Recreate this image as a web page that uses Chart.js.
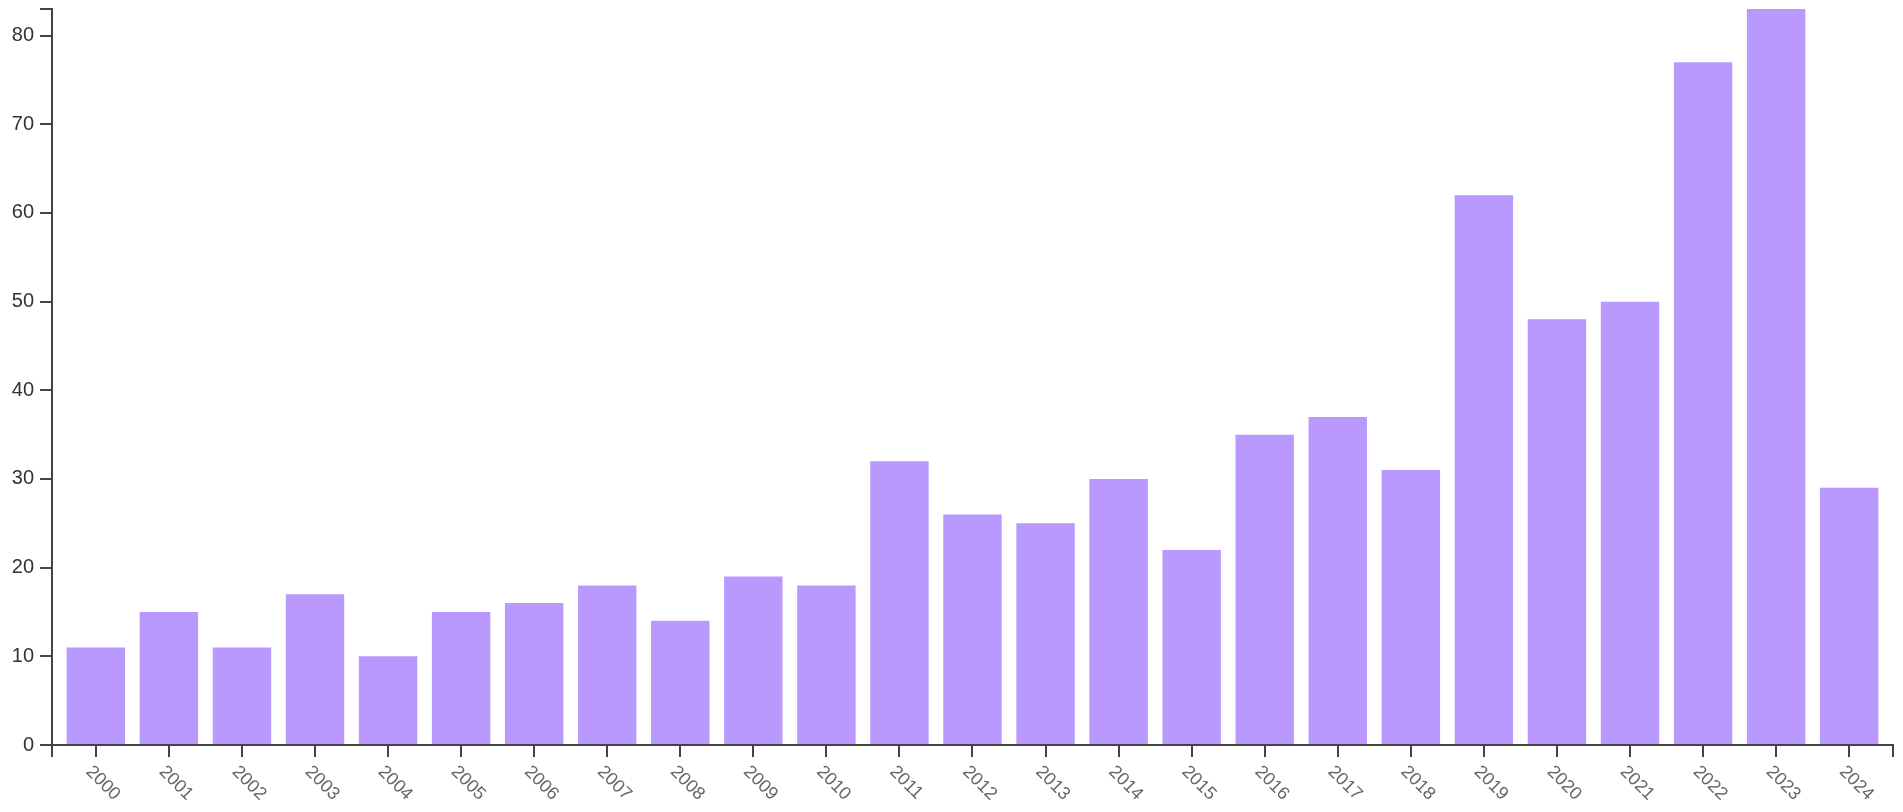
<!DOCTYPE html>
<html>
<head>
<meta charset="utf-8">
<script src="https://cdn.jsdelivr.net/npm/chart.js@4"></script>
<style>
  html, body { margin: 0; padding: 0; background: #fff; }
  #wrap { width: 1903px; height: 812px; }
</style>
</head>
<body>
<div id="wrap"><canvas id="chart"></canvas></div>
<script>
// Chart data
const years = ['2000','2001','2002','2003','2004','2005','2006','2007','2008','2009','2010','2011','2012',
               '2013','2014','2015','2016','2017','2018','2019','2020','2021','2022','2023','2024'];
const counts = [11, 15, 11, 17, 10, 15, 16, 18, 14, 19, 18, 32, 26, 25, 30, 22, 35, 37, 31, 62, 48, 50, 77, 83, 29];
const yTicks = [0, 10, 20, 30, 40, 50, 60, 70, 80];

const axisColor = '#444';

// d3-style axis end caps and rotated year labels
const axisExtras = {
    id: 'axisExtras',
    afterDraw(chart) {
        const { ctx, chartArea: a, scales: { x } } = chart;
        ctx.save();
        ctx.strokeStyle = axisColor;
        ctx.lineWidth = 2;
        ctx.beginPath();
        ctx.moveTo(a.left - 12, a.top);
        ctx.lineTo(a.left, a.top);
        ctx.moveTo(a.left, a.bottom);
        ctx.lineTo(a.left, a.bottom + 12);
        ctx.moveTo(a.right, a.bottom);
        ctx.lineTo(a.right, a.bottom + 12);
        ctx.stroke();

        ctx.fillStyle = '#666';
        ctx.font = '18px "Liberation Sans", Arial, sans-serif';
        ctx.textAlign = 'left';
        ctx.textBaseline = 'middle';
        years.forEach((yr, i) => {
            const px = x.getPixelForValue(i);
            ctx.save();
            ctx.translate(px - 7, a.bottom + 24);
            ctx.rotate(Math.PI / 4);
            ctx.fillText(yr, 0, 0);
            ctx.restore();
        });
        ctx.restore();
    }
};

new Chart(document.getElementById('chart'), {
    type: 'bar',
    data: {
        datasets: [{
            data: counts.map((v, i) => ({ x: i, y: v })),
            backgroundColor: '#b999fd',
            borderWidth: 0,
            barPercentage: 0.8,
            categoryPercentage: 1.0
        }]
    },
    options: {
        responsive: true,
        maintainAspectRatio: false,
        animation: false,
        layout: { padding: { top: 9, right: 10, left: 0, bottom: 0 } },
        plugins: { legend: { display: false }, tooltip: { enabled: false } },
        scales: {
            x: {
                type: 'linear',
                offset: false,
                min: -0.6,
                max: 24.6,
                afterBuildTicks: axis => { axis.ticks = years.map((_, i) => ({ value: i })); },
                afterFit: axis => { axis.height = 67; axis.paddingLeft = 0; axis.paddingRight = 0; },
                ticks: { display: false },
                grid: { offset: false, drawOnChartArea: false, drawTicks: true, tickLength: 12, color: axisColor, lineWidth: 2 },
                border: { display: true, color: axisColor, width: 2 }
            },
            y: {
                min: 0,
                max: 83,
                afterBuildTicks: axis => { axis.ticks = yTicks.map(v => ({ value: v })); },
                afterFit: axis => { axis.width = 52; axis.paddingTop = 0; axis.paddingBottom = 0; },
                ticks: {
                    color: '#333',
                    padding: 6,
                    font: { size: 20, family: '"Liberation Sans", Arial, sans-serif' }
                },
                grid: { drawOnChartArea: false, drawTicks: true, tickLength: 12, color: axisColor, lineWidth: 2 },
                border: { display: true, color: axisColor, width: 2 }
            }
        }
    },
    plugins: [axisExtras]
});
</script>
</body>
</html>
